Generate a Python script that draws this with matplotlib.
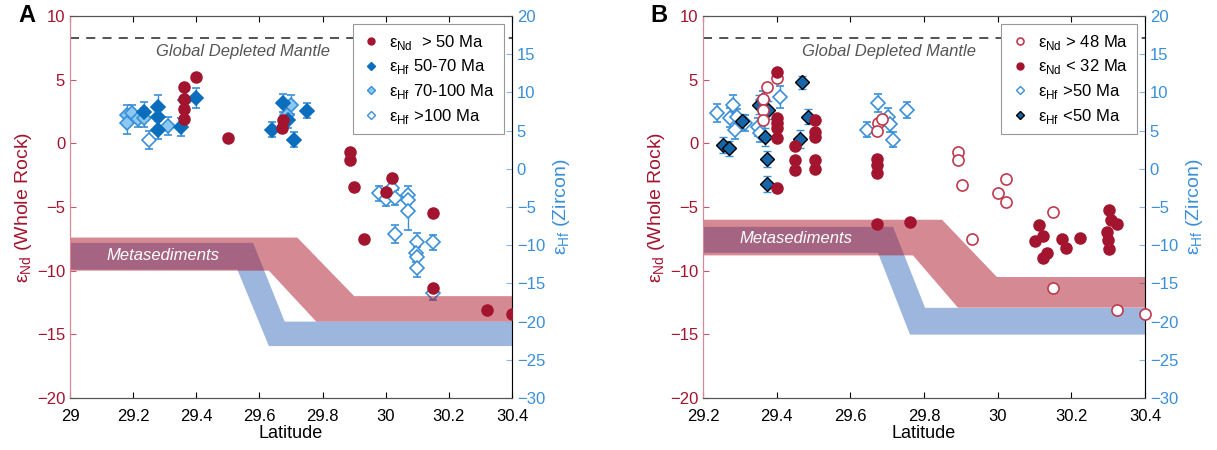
import matplotlib.pyplot as plt

plt.rcParams['font.family'] = ['Liberation Sans', 'DejaVu Sans']

RED = '#A3142E'
DBLUE = '#0A6EBD'
LBLUE = '#8CC8F0'
EBLUE = '#3A8FD9'
DEPLETED_MANTLE = 8.3

# ---------------- panel A data ----------------
a_nd_lat = [29.40, 29.36, 29.36, 29.36, 29.36, 29.50, 29.67, 29.675,
            29.887, 29.887, 29.90, 30.02, 30.0, 29.93, 30.15, 30.15, 30.32, 30.40]
a_nd_val = [5.2, 4.4, 3.5, 2.7, 1.9, 0.4, 1.2, 1.8,
            -0.7, -1.3, -3.4, -2.7, -3.8, -7.5, -5.5, -11.4, -13.1, -13.4]

a_hf1_lat = [29.234, 29.28, 29.28, 29.28, 29.35, 29.365, 29.40, 29.64, 29.675, 29.69, 29.71, 29.75]
a_hf1_val = [7.5, 8.1, 6.8, 5.1, 5.5, 9.0, 9.3, 5.1, 8.6, 6.4, 3.8, 7.6]
a_hf1_err = [1.2, 1.5, 1.3, 1.2, 1.2, 1.3, 1.3, 1.0, 1.2, 1.0, 1.0, 1.0]

a_hf2_lat = [29.18, 29.18, 29.196, 29.215, 29.234, 29.31, 29.70, 29.687]
a_hf2_val = [7.1, 6.0, 7.3, 6.5, 6.7, 5.6, 8.4, 7.1]
a_hf2_err = [1.2, 1.4, 1.0, 1.0, 1.2, 1.2, 1.2, 1.2]

a_hf3_lat = [29.25, 29.98, 30.0, 30.02, 30.03, 30.07, 30.07, 30.07, 30.03,
             30.10, 30.095, 30.10, 30.10, 30.15, 30.15]
a_hf3_val = [3.8, -3.2, -3.9, -2.5, -3.8, -3.4, -4.1, -5.5, -8.5,
             -9.6, -11.0, -11.5, -13.0, -9.6, -16.2]
a_hf3_err = [1.2, 1.0, 1.0, 1.0, 1.0, 1.2, 1.2, 2.5, 1.2,
             1.2, 1.2, 1.2, 1.2, 1.0, 1.0]

# metasediment bands, outlined clockwise (lat, value)
a_nd_band_lat = [29.0, 29.72, 29.90, 30.4, 30.4, 29.78, 29.63, 29.0]
a_nd_band_val = [-7.4, -7.4, -12.0, -12.0, -14.0, -14.0, -10.0, -10.0]
a_hf_band_lat = [29.0, 29.58, 29.68, 30.4, 30.4, 29.63, 29.53, 29.0]
a_hf_band_val = [-9.7, -9.7, -20.0, -20.0, -23.2, -23.2, -13.2, -13.2]

# ---------------- panel B data ----------------
b_nd_old_lat = [29.374, 29.401, 29.363, 29.363, 29.363, 29.675, 29.672, 29.686,
                29.892, 29.892, 29.903, 30.023, 30.001, 30.023, 30.15, 29.93, 30.15,
                30.324, 30.40]
b_nd_old_val = [4.4, 5.1, 3.5, 2.6, 1.8, 1.6, 1.0, 1.9,
                -0.7, -1.3, -3.3, -2.8, -3.9, -4.6, -5.4, -7.5, -11.4,
                -13.1, -13.4]

b_nd_young_lat = [29.401, 29.401, 29.401, 29.401, 29.401, 29.401, 29.45, 29.45, 29.45,
                  29.504, 29.504, 29.504, 29.504, 29.504, 29.672, 29.672, 29.672, 29.672, 29.762,
                  30.112, 30.123, 30.101, 30.134, 30.123, 30.175, 30.186, 30.224,
                  30.302, 30.324, 30.297, 30.30, 30.302, 30.308]
b_nd_young_val = [5.6, 2.0, 1.6, 1.2, 0.4, -3.5, -0.2, -1.3, -2.1,
                  1.8, 0.9, 0.5, -1.3, -2.0, -1.2, -1.7, -2.3, -6.3, -6.2,
                  -6.4, -7.3, -7.7, -8.6, -9.0, -7.5, -8.2, -7.4,
                  -5.2, -6.3, -7.0, -7.6, -8.3, -6.0]

b_hf_old_lat = [29.238, 29.281, 29.273, 29.287, 29.292, 29.314, 29.349, 29.363, 29.409, 29.355,
                29.675, 29.702, 29.645, 29.754, 29.716, 29.708]
b_hf_old_val = [7.3, 8.4, 6.7, 5.1, 6.8, 6.0, 5.5, 9.0, 9.4, 4.7,
                8.6, 6.8, 5.1, 7.7, 3.8, 5.8]
b_hf_old_err = [1.2, 1.3, 1.2, 1.2, 1.0, 1.0, 1.2, 1.2, 1.5, 1.2,
                1.2, 1.2, 1.0, 1.0, 1.0, 1.0]

b_hf_young_lat = [29.254, 29.271, 29.306, 29.352, 29.376, 29.368, 29.374, 29.374,
                  29.469, 29.463, 29.485]
b_hf_young_val = [3.1, 2.7, 6.2, 8.4, 7.7, 4.2, 1.3, -2.0, 11.3, 3.9, 6.8]
b_hf_young_err = [1.0, 1.0, 1.0, 1.2, 1.2, 1.2, 1.0, 1.0, 0.8, 1.2, 1.0]

b_nd_band_lat = [29.2, 29.849, 29.998, 30.4, 30.4, 29.892, 29.77, 29.2]
b_nd_band_val = [-6.0, -6.0, -10.5, -10.5, -12.9, -12.9, -8.8, -8.8]
b_hf_band_lat = [29.2, 29.716, 29.803, 30.4, 30.4, 29.762, 29.675, 29.2]
b_hf_band_val = [-7.6, -7.6, -18.2, -18.2, -21.7, -21.7, -11.0, -11.0]


def style_axes(ax, ax2, xlim, xticks):
    ax.set_xlim(*xlim)
    ax.set_ylim(-20, 10)
    ax2.set_ylim(-30, 20)
    ax.set_xticks(xticks)
    ax.set_xticklabels([('%g' % t) for t in xticks])
    ax.set_yticks(range(-20, 11, 5))
    ax2.set_yticks(range(-30, 21, 5))
    ax.tick_params(direction='in', labelsize=12, length=4, top=True)
    ax.tick_params(axis='x', pad=8)
    ax.tick_params(axis='y', colors='#C8566A', labelcolor=RED)
    ax2.tick_params(direction='in', labelsize=12, length=4, colors='#8AB8E6', labelcolor=EBLUE)
    ax.spines['left'].set_color('#D98A98')
    ax2.spines['left'].set_color('#D98A98')
    ax2.spines['right'].set_color('#8AB8E6')
    for a in (ax, ax2):
        a.spines['top'].set_color('#555555')
        a.spines['bottom'].set_color('#555555')
        for s in a.spines.values():
            s.set_linewidth(0.8)
    ax.set_xlabel('Latitude', fontsize=13, labelpad=1)
    ax.set_ylabel(r'ε$_{\mathregular{Nd}}$ (Whole Rock)', fontsize=14, color=RED, labelpad=2)
    ax2.set_ylabel(r'ε$_{\mathregular{Hf}}$ (Zircon)', fontsize=14, color=EBLUE, labelpad=4)


def bands(ax, ax2, nd_lat, nd_val, hf_lat, hf_val):
    ax.fill(nd_lat, nd_val, color='#AD1527', alpha=0.5, lw=0, zorder=1)
    ax2.fill(hf_lat, hf_val, color='#3C6EBE', alpha=0.5, lw=0, zorder=1)


def legend(ax, handles, labels):
    leg = ax.legend(handles, labels, loc='upper right', fontsize=12, fancybox=False,
                    edgecolor='#999999', framealpha=1, borderaxespad=0.5, handlelength=1.2,
                    handletextpad=0.5, labelspacing=0.35, borderpad=0.5)
    leg.get_frame().set_linewidth(0.8)
    leg.set_zorder(10)


fig = plt.figure(figsize=(12.17, 4.5), dpi=100)

# ---------------- panel A ----------------
ax = fig.add_axes([70 / 1217, 52 / 450, 442 / 1217, 382 / 450])
ax2 = ax.twinx()
ax.set_zorder(ax2.get_zorder() + 1)
ax.patch.set_visible(False)
bands(ax, ax2, a_nd_band_lat, a_nd_band_val, a_hf_band_lat, a_hf_band_val)
ax.axhline(DEPLETED_MANTLE, color='#444444', ls=(0, (5, 4)), lw=1.3, zorder=2)
ax.text(29.548, DEPLETED_MANTLE - 0.5, 'Global Depleted Mantle', style='italic',
        color='#555555', fontsize=12, ha='center', va='top')
ax.text(29.115, -8.8, 'Metasediments', style='italic', color='white', fontsize=12,
        ha='left', va='center', zorder=3)

ax2.errorbar(a_hf3_lat, a_hf3_val, yerr=a_hf3_err, fmt='D', ms=7, mfc='white', mec=EBLUE,
             mew=1.2, ecolor=EBLUE, elinewidth=1, capsize=3, zorder=4)
ax2.errorbar(a_hf2_lat, a_hf2_val, yerr=a_hf2_err, fmt='D', ms=7, mfc=LBLUE, mec=EBLUE,
             mew=1.2, ecolor=EBLUE, elinewidth=1, capsize=3, zorder=4)
ax2.errorbar(a_hf1_lat, a_hf1_val, yerr=a_hf1_err, fmt='D', ms=7, mfc=DBLUE, mec=DBLUE,
             mew=1.2, ecolor=EBLUE, elinewidth=1, capsize=3, zorder=4)
ax.plot(a_nd_lat, a_nd_val, 'o', ms=8, color=RED, mec=RED, zorder=5)

style_axes(ax, ax2, (29, 30.4), [29, 29.2, 29.4, 29.6, 29.8, 30, 30.2, 30.4])

h = [plt.Line2D([], [], ls='', marker='o', ms=5, color=RED),
     plt.Line2D([], [], ls='', marker='D', ms=4.5, mfc=DBLUE, mec=DBLUE),
     plt.Line2D([], [], ls='', marker='D', ms=4.5, mfc=LBLUE, mec=EBLUE),
     plt.Line2D([], [], ls='', marker='D', ms=4.5, mfc='white', mec=EBLUE)]
lab = [r'ε$_{\mathregular{Nd}}$  > 50 Ma', r'ε$_{\mathregular{Hf}}$ 50-70 Ma',
       r'ε$_{\mathregular{Hf}}$ 70-100 Ma', r'ε$_{\mathregular{Hf}}$ >100 Ma']
legend(ax, h, lab)
fig.text(18 / 1217, 1 - 16 / 450, 'A', fontsize=17, fontweight='bold', va='center')

# ---------------- panel B ----------------
bx = fig.add_axes([703 / 1217, 52 / 450, 442 / 1217, 382 / 450])
bx2 = bx.twinx()
bx.set_zorder(bx2.get_zorder() + 1)
bx.patch.set_visible(False)
bands(bx, bx2, b_nd_band_lat, b_nd_band_val, b_hf_band_lat, b_hf_band_val)
bx.axhline(DEPLETED_MANTLE, color='#444444', ls=(0, (5, 4)), lw=1.3, zorder=2)
bx.text(29.705, DEPLETED_MANTLE - 0.5, 'Global Depleted Mantle', style='italic',
        color='#555555', fontsize=12, ha='center', va='top')
bx.text(29.30, -7.45, 'Metasediments', style='italic', color='white', fontsize=12,
        ha='left', va='center', zorder=3)

bx2.errorbar(b_hf_old_lat, b_hf_old_val, yerr=b_hf_old_err, fmt='D', ms=7, mfc='white',
             mec=EBLUE, mew=1.2, ecolor=EBLUE, elinewidth=1, capsize=3, zorder=4)
bx2.errorbar(b_hf_young_lat, b_hf_young_val, yerr=b_hf_young_err, fmt='D', ms=7,
             mfc='#1565A8', mec='black', mew=1.0, ecolor=EBLUE, elinewidth=1, capsize=3,
             zorder=4)
bx.plot(b_nd_old_lat, b_nd_old_val, 'o', ms=8, mfc='white', mec='#C0394F', mew=1.2,
        zorder=5, clip_on=False)
bx.plot(b_nd_young_lat, b_nd_young_val, 'o', ms=8, color=RED, mec=RED, zorder=5)

style_axes(bx, bx2, (29.2, 30.4), [29.2, 29.4, 29.6, 29.8, 30, 30.2, 30.4])

h = [plt.Line2D([], [], ls='', marker='o', ms=5, mfc='white', mec='#C0394F', mew=1.2),
     plt.Line2D([], [], ls='', marker='o', ms=5, color=RED),
     plt.Line2D([], [], ls='', marker='D', ms=4.5, mfc='white', mec=EBLUE),
     plt.Line2D([], [], ls='', marker='D', ms=4.5, mfc='#1565A8', mec='black')]
lab = [r'ε$_{\mathregular{Nd}}$ > 48 Ma', r'ε$_{\mathregular{Nd}}$ < 32 Ma',
       r'ε$_{\mathregular{Hf}}$ >50 Ma', r'ε$_{\mathregular{Hf}}$ <50 Ma']
legend(bx, h, lab)
fig.text(650 / 1217, 1 - 16 / 450, 'B', fontsize=17, fontweight='bold', va='center')

fig.savefig('out.png', dpi=100)
